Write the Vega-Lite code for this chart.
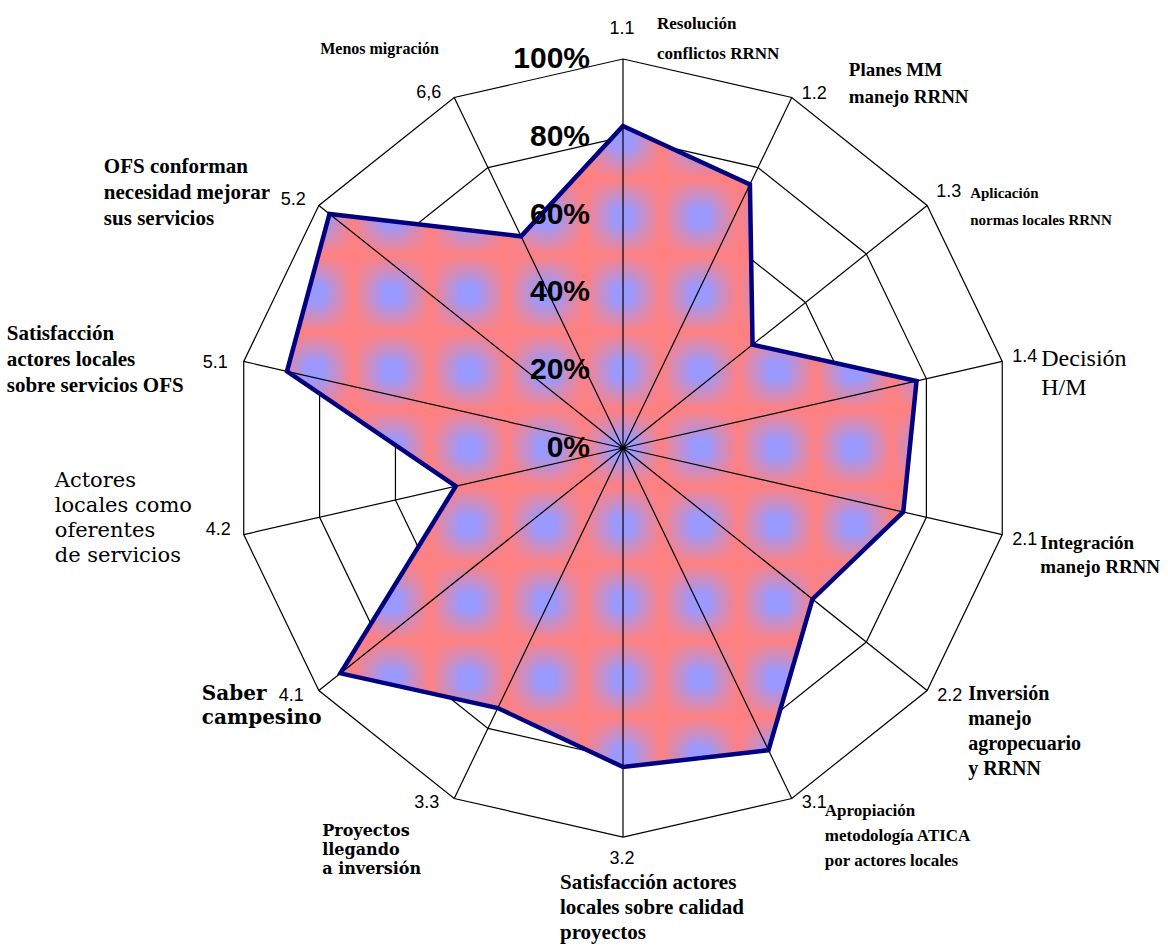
{
  "$schema": "https://vega.github.io/schema/vega-lite/v6.json",
  "width": 1168,
  "height": 948,
  "autosize": "none",
  "padding": 0,
  "background": "white",
  "config": {"view": {"stroke": null}},
  "datasets": {
    "axes": [
      {"code": "1.1", "i": 0, "value": 82.8, "label": "Resolución\nconflictos RRNN"},
      {"code": "1.2", "i": 1, "value": 75.2, "label": "Planes MM\nmanejo RRNN"},
      {"code": "1.3", "i": 2, "value": 42.6, "label": "Aplicación\nnormas locales RRNN"},
      {"code": "1.4", "i": 3, "value": 77.4, "label": "Decisión\nH/M"},
      {"code": "2.1", "i": 4, "value": 73.9, "label": "Integración\nmanejo RRNN"},
      {"code": "2.2", "i": 5, "value": 62.3, "label": "Inversión\nmanejo\nagropecuario\ny RRNN"},
      {"code": "3.1", "i": 6, "value": 86.2, "label": "Apropiación\nmetodología ATICA\npor actores locales"},
      {"code": "3.2", "i": 7, "value": 82.0, "label": "Satisfacción actores\nlocales sobre calidad\nproyectos"},
      {"code": "3.3", "i": 8, "value": 74.2, "label": "Proyectos\nllegando\na inversión"},
      {"code": "4.1", "i": 9, "value": 92.9, "label": "Saber\ncampesino"},
      {"code": "4.2", "i": 10, "value": 44.1, "label": "Actores\nlocales como\noferentes\nde servicios"},
      {"code": "5.1", "i": 11, "value": 88.6, "label": "Satisfacción\nactores locales\nsobre servicios OFS"},
      {"code": "5.2", "i": 12, "value": 96.5, "label": "OFS conforman\nnecesidad mejorar\nsus servicios"},
      {"code": "6,6", "i": 13, "value": 60.4, "label": "Menos migración"}
    ],
    "pcts": [
      {"pct": "0%", "level": 0},
      {"pct": "20%", "level": 20},
      {"pct": "40%", "level": 40},
      {"pct": "60%", "level": 60},
      {"pct": "80%", "level": 80},
      {"pct": "100%", "level": 100}
    ]
  },
  "data": {"name": "axes"},
  "transform": [
    {"calculate": "datum.i * 2 * PI / 14", "as": "ang"},
    {"calculate": "datum.value * sin(datum.ang)", "as": "vx"},
    {"calculate": "datum.value * cos(datum.ang)", "as": "vy"},
    {"calculate": "100 * sin(datum.ang)", "as": "ox"},
    {"calculate": "100 * cos(datum.ang)", "as": "oy"}
  ],
  "layer": [
    {
      "transform": [{"calculate": "20 * sin(datum.ang)", "as": "gx"}, {"calculate": "20 * cos(datum.ang)", "as": "gy"}],
      "mark": {"type": "line", "interpolate": "linear-closed", "stroke": "black", "strokeWidth": 1.2},
      "encoding": {
        "x": {"field": "gx", "type": "quantitative", "scale": {"domain": [-160.15, 140.1], "nice": false, "zero": false}, "axis": null},
        "y": {"field": "gy", "type": "quantitative", "scale": {"domain": [-128.53, 115.17], "nice": false, "zero": false}, "axis": null},
        "order": {"field": "i", "type": "quantitative"}
      }
    },
    {
      "transform": [{"calculate": "40 * sin(datum.ang)", "as": "gx"}, {"calculate": "40 * cos(datum.ang)", "as": "gy"}],
      "mark": {"type": "line", "interpolate": "linear-closed", "stroke": "black", "strokeWidth": 1.2},
      "encoding": {
        "x": {"field": "gx", "type": "quantitative", "scale": {"domain": [-160.15, 140.1], "nice": false, "zero": false}, "axis": null},
        "y": {"field": "gy", "type": "quantitative", "scale": {"domain": [-128.53, 115.17], "nice": false, "zero": false}, "axis": null},
        "order": {"field": "i", "type": "quantitative"}
      }
    },
    {
      "transform": [{"calculate": "60 * sin(datum.ang)", "as": "gx"}, {"calculate": "60 * cos(datum.ang)", "as": "gy"}],
      "mark": {"type": "line", "interpolate": "linear-closed", "stroke": "black", "strokeWidth": 1.2},
      "encoding": {
        "x": {"field": "gx", "type": "quantitative", "scale": {"domain": [-160.15, 140.1], "nice": false, "zero": false}, "axis": null},
        "y": {"field": "gy", "type": "quantitative", "scale": {"domain": [-128.53, 115.17], "nice": false, "zero": false}, "axis": null},
        "order": {"field": "i", "type": "quantitative"}
      }
    },
    {
      "transform": [{"calculate": "80 * sin(datum.ang)", "as": "gx"}, {"calculate": "80 * cos(datum.ang)", "as": "gy"}],
      "mark": {"type": "line", "interpolate": "linear-closed", "stroke": "black", "strokeWidth": 1.2},
      "encoding": {
        "x": {"field": "gx", "type": "quantitative", "scale": {"domain": [-160.15, 140.1], "nice": false, "zero": false}, "axis": null},
        "y": {"field": "gy", "type": "quantitative", "scale": {"domain": [-128.53, 115.17], "nice": false, "zero": false}, "axis": null},
        "order": {"field": "i", "type": "quantitative"}
      }
    },
    {
      "mark": {"type": "line", "interpolate": "linear-closed", "stroke": "black", "strokeWidth": 1.2},
      "encoding": {
        "x": {"field": "ox", "type": "quantitative", "scale": {"domain": [-160.15, 140.1], "nice": false, "zero": false}, "axis": null},
        "y": {"field": "oy", "type": "quantitative", "scale": {"domain": [-128.53, 115.17], "nice": false, "zero": false}, "axis": null},
        "order": {"field": "i", "type": "quantitative"}
      }
    },
    {
      "mark": {
        "type": "line", "interpolate": "linear-closed", "stroke": null,
        "fill": {
          "gradient": "linear", "x1": 0, "y1": 0, "x2": 1, "y2": 0,
          "stops": [
            {"offset": 0.0, "color": "#DC88AB"},
            {"offset": 0.0325, "color": "#9999FF"}, {"offset": 0.0565, "color": "#9999FF"}, {"offset": 0.1056, "color": "#FF8080"},
            {"offset": 0.1548, "color": "#9999FF"}, {"offset": 0.1788, "color": "#9999FF"}, {"offset": 0.228, "color": "#FF8080"},
            {"offset": 0.2771, "color": "#9999FF"}, {"offset": 0.3011, "color": "#9999FF"}, {"offset": 0.3502, "color": "#FF8080"},
            {"offset": 0.3994, "color": "#9999FF"}, {"offset": 0.4234, "color": "#9999FF"}, {"offset": 0.4726, "color": "#FF8080"},
            {"offset": 0.5218, "color": "#9999FF"}, {"offset": 0.5458, "color": "#9999FF"}, {"offset": 0.595, "color": "#FF8080"},
            {"offset": 0.6441, "color": "#9999FF"}, {"offset": 0.6681, "color": "#9999FF"}, {"offset": 0.7172, "color": "#FF8080"},
            {"offset": 0.7664, "color": "#9999FF"}, {"offset": 0.7904, "color": "#9999FF"}, {"offset": 0.8396, "color": "#FF8080"},
            {"offset": 0.8887, "color": "#9999FF"}, {"offset": 0.9127, "color": "#9999FF"}, {"offset": 0.9619, "color": "#FF8080"},
            {"offset": 1.0, "color": "#AF94E3"}
          ]
        }
      },
      "encoding": {
        "x": {"field": "vx", "type": "quantitative", "scale": {"domain": [-160.15, 140.1], "nice": false, "zero": false}, "axis": null},
        "y": {"field": "vy", "type": "quantitative", "scale": {"domain": [-128.53, 115.17], "nice": false, "zero": false}, "axis": null},
        "order": {"field": "i", "type": "quantitative"}
      }
    },
    {
      "mark": {
        "type": "line", "interpolate": "linear-closed", "stroke": null,
        "fill": {
          "gradient": "linear", "x1": 0, "y1": 0, "x2": 0, "y2": 1,
          "stops": [
            {"offset": 0.0, "color": "rgba(255,128,128,0.2)"},
            {"offset": 0.0098, "color": "rgba(255,128,128,0)"}, {"offset": 0.0338, "color": "rgba(255,128,128,0)"}, {"offset": 0.0819, "color": "rgba(255,128,128,1)"},
            {"offset": 0.130, "color": "rgba(255,128,128,0)"}, {"offset": 0.154, "color": "rgba(255,128,128,0)"}, {"offset": 0.2021, "color": "rgba(255,128,128,1)"},
            {"offset": 0.2502, "color": "rgba(255,128,128,0)"}, {"offset": 0.2742, "color": "rgba(255,128,128,0)"}, {"offset": 0.3222, "color": "rgba(255,128,128,1)"},
            {"offset": 0.3703, "color": "rgba(255,128,128,0)"}, {"offset": 0.3943, "color": "rgba(255,128,128,0)"}, {"offset": 0.4424, "color": "rgba(255,128,128,1)"},
            {"offset": 0.4905, "color": "rgba(255,128,128,0)"}, {"offset": 0.5145, "color": "rgba(255,128,128,0)"}, {"offset": 0.5625, "color": "rgba(255,128,128,1)"},
            {"offset": 0.6106, "color": "rgba(255,128,128,0)"}, {"offset": 0.6346, "color": "rgba(255,128,128,0)"}, {"offset": 0.6827, "color": "rgba(255,128,128,1)"},
            {"offset": 0.7308, "color": "rgba(255,128,128,0)"}, {"offset": 0.7548, "color": "rgba(255,128,128,0)"}, {"offset": 0.8028, "color": "rgba(255,128,128,1)"},
            {"offset": 0.8509, "color": "rgba(255,128,128,0)"}, {"offset": 0.8749, "color": "rgba(255,128,128,0)"}, {"offset": 0.923, "color": "rgba(255,128,128,1)"},
            {"offset": 0.9711, "color": "rgba(255,128,128,0)"}, {"offset": 1.0, "color": "rgba(255,128,128,0)"}
          ]
        }
      },
      "encoding": {
        "x": {"field": "vx", "type": "quantitative", "scale": {"domain": [-160.15, 140.1], "nice": false, "zero": false}, "axis": null},
        "y": {"field": "vy", "type": "quantitative", "scale": {"domain": [-128.53, 115.17], "nice": false, "zero": false}, "axis": null},
        "order": {"field": "i", "type": "quantitative"}
      }
    },
    {
      "mark": {"type": "rule", "stroke": "black", "strokeWidth": 1.2},
      "encoding": {
        "x": {"field": "ox", "type": "quantitative", "scale": {"domain": [-160.15, 140.1], "nice": false, "zero": false}, "axis": null},
        "y": {"field": "oy", "type": "quantitative", "scale": {"domain": [-128.53, 115.17], "nice": false, "zero": false}, "axis": null},
        "x2": {"datum": 0},
        "y2": {"datum": 0}
      }
    },
    {
      "mark": {"type": "line", "interpolate": "linear-closed", "fill": null, "stroke": "#000080", "strokeWidth": 4.5, "strokeJoin": "miter"},
      "encoding": {
        "x": {"field": "vx", "type": "quantitative", "scale": {"domain": [-160.15, 140.1], "nice": false, "zero": false}, "axis": null},
        "y": {"field": "vy", "type": "quantitative", "scale": {"domain": [-128.53, 115.17], "nice": false, "zero": false}, "axis": null},
        "order": {"field": "i", "type": "quantitative"}
      }
    },
    {
      "data": {"name": "pcts"},
      "mark": {"type": "text", "align": "right", "baseline": "middle", "dx": -33, "font": "Liberation Sans", "fontWeight": "bold", "fontSize": 30, "color": "black"},
      "encoding": {
        "x": {"datum": 0, "type": "quantitative", "scale": {"domain": [-160.15, 140.1], "nice": false, "zero": false}, "axis": null},
        "y": {"field": "level", "type": "quantitative", "scale": {"domain": [-128.53, 115.17], "nice": false, "zero": false}, "axis": null},
        "text": {"field": "pct"}
      }
    },
    {
      "transform": [{"filter": "datum.i == 0"}],
      "mark": {"type": "text", "align": "center", "baseline": "middle", "dx": -1, "dy": -30, "font": "Liberation Sans", "fontSize": 18, "color": "black"},
      "encoding": {"x": {"field": "ox", "type": "quantitative"}, "y": {"field": "oy", "type": "quantitative"}, "text": {"field": "code"}}
    },
    {
      "transform": [{"filter": "datum.i == 7"}],
      "mark": {"type": "text", "align": "center", "baseline": "middle", "dx": -1, "dy": 22, "font": "Liberation Sans", "fontSize": 18, "color": "black"},
      "encoding": {"x": {"field": "ox", "type": "quantitative"}, "y": {"field": "oy", "type": "quantitative"}, "text": {"field": "code"}}
    },
    {
      "transform": [{"filter": "datum.i == 1 || datum.i == 3"}],
      "mark": {"type": "text", "align": "left", "baseline": "middle", "dx": 10, "dy": -4, "font": "Liberation Sans", "fontSize": 18, "color": "black"},
      "encoding": {"x": {"field": "ox", "type": "quantitative"}, "y": {"field": "oy", "type": "quantitative"}, "text": {"field": "code"}}
    },
    {
      "transform": [{"filter": "datum.i == 2"}],
      "mark": {"type": "text", "align": "left", "baseline": "middle", "dx": 9, "dy": -13, "font": "Liberation Sans", "fontSize": 18, "color": "black"},
      "encoding": {"x": {"field": "ox", "type": "quantitative"}, "y": {"field": "oy", "type": "quantitative"}, "text": {"field": "code"}}
    },
    {
      "transform": [{"filter": "datum.i >= 4 && datum.i <= 6"}],
      "mark": {"type": "text", "align": "left", "baseline": "middle", "dx": 10, "dy": 5, "font": "Liberation Sans", "fontSize": 18, "color": "black"},
      "encoding": {"x": {"field": "ox", "type": "quantitative"}, "y": {"field": "oy", "type": "quantitative"}, "text": {"field": "code"}}
    },
    {
      "transform": [{"filter": "datum.i == 8 || datum.i == 9"}],
      "mark": {"type": "text", "align": "right", "baseline": "middle", "dx": -15, "dy": 5, "font": "Liberation Sans", "fontSize": 18, "color": "black"},
      "encoding": {"x": {"field": "ox", "type": "quantitative"}, "y": {"field": "oy", "type": "quantitative"}, "text": {"field": "code"}}
    },
    {
      "transform": [{"filter": "datum.i == 10 || datum.i == 12 || datum.i == 13"}],
      "mark": {"type": "text", "align": "right", "baseline": "middle", "dx": -13, "dy": -5, "font": "Liberation Sans", "fontSize": 18, "color": "black"},
      "encoding": {"x": {"field": "ox", "type": "quantitative"}, "y": {"field": "oy", "type": "quantitative"}, "text": {"field": "code"}}
    },
    {
      "transform": [{"filter": "datum.i == 11"}],
      "mark": {"type": "text", "align": "right", "baseline": "middle", "dx": -16, "dy": 2, "font": "Liberation Sans", "fontSize": 18, "color": "black"},
      "encoding": {"x": {"field": "ox", "type": "quantitative"}, "y": {"field": "oy", "type": "quantitative"}, "text": {"field": "code"}}
    },
    {
      "transform": [{"filter": "datum.i == 0"}],
      "mark": {"type": "text", "align": "left", "baseline": "alphabetic", "dx": 34, "dy": -30, "lineBreak": "\n", "lineHeight": 30, "font": "Liberation Serif", "fontWeight": "bold", "fontSize": 17, "color": "black"},
      "encoding": {"x": {"field": "ox", "type": "quantitative"}, "y": {"field": "oy", "type": "quantitative"}, "text": {"field": "label"}}
    },
    {
      "transform": [{"filter": "datum.i == 1"}],
      "mark": {"type": "text", "align": "left", "baseline": "alphabetic", "dx": 57, "dy": -22, "lineBreak": "\n", "lineHeight": 27, "font": "Liberation Serif", "fontWeight": "bold", "fontSize": 19, "color": "black"},
      "encoding": {"x": {"field": "ox", "type": "quantitative"}, "y": {"field": "oy", "type": "quantitative"}, "text": {"field": "label"}}
    },
    {
      "transform": [{"filter": "datum.i == 2"}],
      "mark": {"type": "text", "align": "left", "baseline": "alphabetic", "dx": 43, "dy": -7, "lineBreak": "\n", "lineHeight": 27, "font": "Liberation Serif", "fontWeight": "bold", "fontSize": 15, "color": "black"},
      "encoding": {"x": {"field": "ox", "type": "quantitative"}, "y": {"field": "oy", "type": "quantitative"}, "text": {"field": "label"}}
    },
    {
      "transform": [{"filter": "datum.i == 3"}],
      "mark": {"type": "text", "align": "left", "baseline": "alphabetic", "dx": 39, "dy": 5, "lineBreak": "\n", "lineHeight": 29, "font": "Liberation Serif", "fontSize": 24, "color": "black"},
      "encoding": {"x": {"field": "ox", "type": "quantitative"}, "y": {"field": "oy", "type": "quantitative"}, "text": {"field": "label"}}
    },
    {
      "transform": [{"filter": "datum.i == 4"}],
      "mark": {"type": "text", "align": "left", "baseline": "alphabetic", "dx": 38, "dy": 14, "lineBreak": "\n", "lineHeight": 24, "font": "Liberation Serif", "fontWeight": "bold", "fontSize": 19, "color": "black"},
      "encoding": {"x": {"field": "ox", "type": "quantitative"}, "y": {"field": "oy", "type": "quantitative"}, "text": {"field": "label"}}
    },
    {
      "transform": [{"filter": "datum.i == 5"}],
      "mark": {"type": "text", "align": "left", "baseline": "alphabetic", "dx": 41, "dy": 9, "lineBreak": "\n", "lineHeight": 25.3, "font": "Liberation Serif", "fontWeight": "bold", "fontSize": 20, "color": "black"},
      "encoding": {"x": {"field": "ox", "type": "quantitative"}, "y": {"field": "oy", "type": "quantitative"}, "text": {"field": "label"}}
    },
    {
      "transform": [{"filter": "datum.i == 6"}],
      "mark": {"type": "text", "align": "left", "baseline": "alphabetic", "dx": 33, "dy": 18, "lineBreak": "\n", "lineHeight": 25, "font": "Liberation Serif", "fontWeight": "bold", "fontSize": 17, "color": "black"},
      "encoding": {"x": {"field": "ox", "type": "quantitative"}, "y": {"field": "oy", "type": "quantitative"}, "text": {"field": "label"}}
    },
    {
      "transform": [{"filter": "datum.i == 7"}],
      "mark": {"type": "text", "align": "left", "baseline": "alphabetic", "dx": -63, "dy": 52, "lineBreak": "\n", "lineHeight": 25, "font": "Liberation Serif", "fontWeight": "bold", "fontSize": 21, "color": "black"},
      "encoding": {"x": {"field": "ox", "type": "quantitative"}, "y": {"field": "oy", "type": "quantitative"}, "text": {"field": "label"}}
    },
    {
      "transform": [{"filter": "datum.i == 8"}],
      "mark": {"type": "text", "align": "left", "baseline": "alphabetic", "dx": -132, "dy": 38, "lineBreak": "\n", "lineHeight": 18.7, "font": "DejaVu Serif", "fontWeight": "bold", "fontSize": 16, "color": "black"},
      "encoding": {"x": {"field": "ox", "type": "quantitative"}, "y": {"field": "oy", "type": "quantitative"}, "text": {"field": "label"}}
    },
    {
      "transform": [{"filter": "datum.i == 9"}],
      "mark": {"type": "text", "align": "left", "baseline": "alphabetic", "dx": -117, "dy": 9, "lineBreak": "\n", "lineHeight": 24, "font": "DejaVu Serif", "fontWeight": "bold", "fontSize": 20, "color": "black"},
      "encoding": {"x": {"field": "ox", "type": "quantitative"}, "y": {"field": "oy", "type": "quantitative"}, "text": {"field": "label"}}
    },
    {
      "transform": [{"filter": "datum.i == 10"}],
      "mark": {"type": "text", "align": "left", "baseline": "alphabetic", "dx": -189, "dy": -48, "lineBreak": "\n", "lineHeight": 25, "font": "DejaVu Serif", "fontSize": 21, "color": "black"},
      "encoding": {"x": {"field": "ox", "type": "quantitative"}, "y": {"field": "oy", "type": "quantitative"}, "text": {"field": "label"}}
    },
    {
      "transform": [{"filter": "datum.i == 11"}],
      "mark": {"type": "text", "align": "left", "baseline": "alphabetic", "dx": -237, "dy": -21, "lineBreak": "\n", "lineHeight": 26, "font": "Liberation Serif", "fontWeight": "bold", "fontSize": 21, "color": "black"},
      "encoding": {"x": {"field": "ox", "type": "quantitative"}, "y": {"field": "oy", "type": "quantitative"}, "text": {"field": "label"}}
    },
    {
      "transform": [{"filter": "datum.i == 12"}],
      "mark": {"type": "text", "align": "left", "baseline": "alphabetic", "dx": -215, "dy": -32, "lineBreak": "\n", "lineHeight": 26, "font": "Liberation Serif", "fontWeight": "bold", "fontSize": 21, "color": "black"},
      "encoding": {"x": {"field": "ox", "type": "quantitative"}, "y": {"field": "oy", "type": "quantitative"}, "text": {"field": "label"}}
    },
    {
      "transform": [{"filter": "datum.i == 13"}],
      "mark": {"type": "text", "align": "left", "baseline": "alphabetic", "dx": -134, "dy": -44, "lineBreak": "\n", "lineHeight": 26, "font": "Liberation Serif", "fontWeight": "bold", "fontSize": 16, "color": "black"},
      "encoding": {"x": {"field": "ox", "type": "quantitative"}, "y": {"field": "oy", "type": "quantitative"}, "text": {"field": "label"}}
    }
  ]
}
